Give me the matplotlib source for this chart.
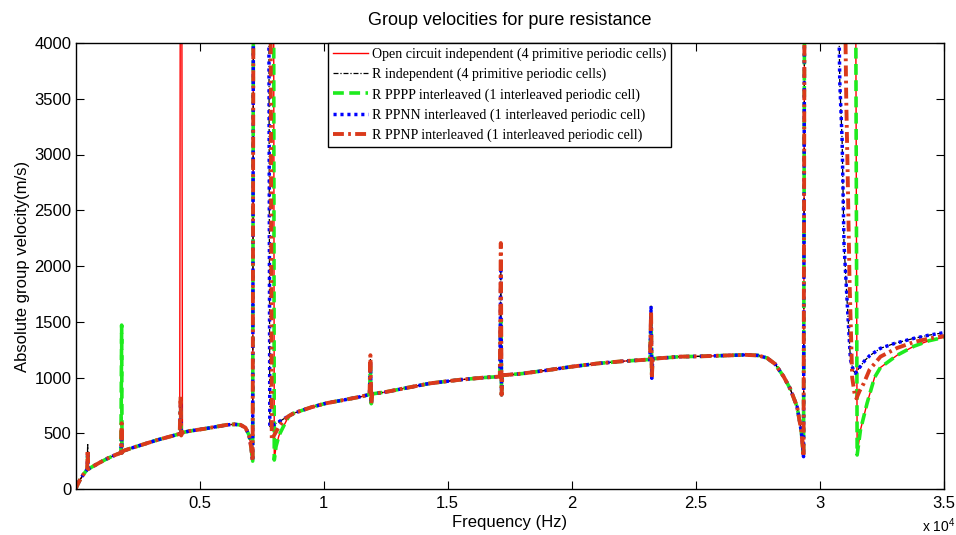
import matplotlib
matplotlib.use("Agg")
import matplotlib.pyplot as plt
import numpy as np

plt.rcParams['font.family'] = ['Liberation Sans', 'DejaVu Sans']
plt.rcParams['mathtext.fontset'] = 'custom'
plt.rcParams['mathtext.rm'] = 'Liberation Sans'

# ---------------- data ----------------
# shared curve before the first band gap
base1_f = [0, 150, 300, 420, 600, 800, 1000, 1300, 1600, 2300, 2800, 3300, 3800,
           4600, 5200, 5700, 6100, 6400, 6650, 6850, 7000, 7080, 7140, 7170]
base1_v = [0, 70, 125, 160, 190, 215, 240, 275, 305, 370, 405, 440, 470,
           520, 540, 560, 575, 580, 575, 550, 480, 370, 250, 4600]

# shared curve between the first and the second band gap
base2_f = [8600, 8800, 9500, 10100, 10800, 11500, 12500, 13300, 14300, 15500, 16500,
           18000, 19000, 20000, 21000, 22000, 24375, 25200, 26000, 27000, 27500,
           27870, 28200, 28540, 28800, 29080, 29250, 29340, 29380]
base2_v = [655, 680, 733, 769, 798, 828, 870, 905, 948, 980, 1000,
           1035, 1065, 1097, 1125, 1145, 1187, 1190, 1196, 1203, 1198,
           1175, 1120, 1007, 900, 738, 520, 290, 4600]

# right edge of the first gap, per series
gap1_green_f = [7985, 8010, 8080, 8200, 8400]
gap1_green_v = [4600, 260, 380, 480, 570]
gap1_blue_f = [7790, 7830, 7900, 8100, 8400]
gap1_blue_v = [4600, 560, 565, 590, 630]
gap1_red_f = [7860, 7910, 8000, 8200, 8400]
gap1_red_v = [4600, 440, 480, 560, 620]

# right edge of the third gap, per series
gap3_blue_f = [30740, 30800, 30894, 30970, 31093, 31230, 31350, 31430, 31600, 31800,
               32000, 32440, 33000, 33784, 34400, 35000]
gap3_blue_v = [4600, 3650, 3130, 2200, 1695, 1160, 1060, 1038, 1090, 1150,
               1195, 1262, 1305, 1351, 1380, 1402]
gap3_red_f = [31000, 31060, 31120, 31190, 31300, 31400, 31470, 31600, 31768, 32000,
              32440, 33113, 33784, 34400, 35000]
gap3_red_v = [4600, 3500, 2800, 1900, 1000, 850, 813, 880, 948, 1070,
              1187, 1265, 1318, 1350, 1372]
gap3_green_f = [31440, 31500, 31633, 31900, 32200, 32440, 33113, 33784, 34400, 35000]
gap3_green_v = [4600, 305, 529, 769, 1000, 1090, 1200, 1280, 1330, 1360]

# resonance spikes (frequencies of the local points)
spk1_f = [470, 490, 510, 540]
spk2_f = [1830, 1860, 1875, 1900]
spk3_f = [4200, 4235, 4260, 4290]
spk4_f = [11850, 11885, 11920, 11960]
spk5_f = [17100, 17140, 17170, 17200]
spk6_f = [23150, 23195, 23225, 23260]

spk_black = {1: [175, 410, 190, 182], 2: [325, 1470, 325, 340], 3: [495, 800, 480, 505],
             4: [848, 1170, 765, 853], 5: [1008, 2000, 845, 1020], 6: [1162, 1641, 993, 1168]}
spk_green = {1: [175, 300, 190, 182], 2: [325, 1470, 325, 340], 3: [495, 700, 480, 505],
             4: [848, 1100, 765, 853], 5: [1008, 1516, 845, 1020], 6: [1162, 1550, 993, 1168]}
spk_blue = {1: [175, 330, 190, 182], 2: [325, 450, 325, 340], 3: [495, 760, 480, 505],
            4: [848, 1150, 765, 853], 5: [1008, 1994, 845, 1020], 6: [1162, 1641, 993, 1168]}
spk_red = {1: [175, 350, 190, 182], 2: [325, 590, 325, 340], 3: [495, 828, 480, 505],
           4: [848, 1200, 765, 853], 5: [1008, 2206, 845, 1020], 6: [1162, 1600, 993, 1168]}

# open circuit: one unbounded resonance near 4.25 kHz
open_spk_f = [4200, 4222, 4285, 4310]
open_spk_v = [495, 4600, 4600, 505]

spk_freqs = {1: spk1_f, 2: spk2_f, 3: spk3_f, 4: spk4_f, 5: spk5_f, 6: spk6_f}


def build(chunks):
    f = np.concatenate([np.asarray(c[0], float) for c in chunks])
    v = np.concatenate([np.asarray(c[1], float) for c in chunks])
    o = np.argsort(f, kind='stable')
    return f[o], v[o]


def series(gap1, gap3, spikes):
    chunks = [(base1_f, base1_v), gap1, (base2_f, base2_v), gap3]
    for k, vals in spikes.items():
        chunks.append((spk_freqs[k], vals))
    return build(chunks)


open_f, open_v = build([(base1_f, base1_v), (open_spk_f, open_spk_v),
                        (gap1_green_f, gap1_green_v), (base2_f, base2_v),
                        (gap3_green_f, gap3_green_v)])
black_f, black_v = series((gap1_blue_f, gap1_blue_v), (gap3_blue_f, gap3_blue_v), spk_black)
green_f, green_v = series((gap1_green_f, gap1_green_v), (gap3_green_f, gap3_green_v), spk_green)
blue_f, blue_v = series((gap1_blue_f, gap1_blue_v), (gap3_blue_f, gap3_blue_v), spk_blue)
red_f, red_v = series((gap1_red_f, gap1_red_v), (gap3_red_f, gap3_red_v), spk_red)

labels = ["Open circuit independent (4 primitive periodic cells)",
          "R independent (4 primitive periodic cells)",
          "R PPPP interleaved (1 interleaved periodic cell)",
          "R PPNN interleaved (1 interleaved periodic cell)",
          "R PPNP interleaved (1 interleaved periodic cell)"]

xticks = [5000, 10000, 15000, 20000, 25000, 30000, 35000]
xticklabels = ["0.5", "1", "1.5", "2", "2.5", "3", "3.5"]
yticks = [0, 500, 1000, 1500, 2000, 2500, 3000, 3500, 4000]

# ---------------- figure ----------------
fig = plt.figure(figsize=(9.56, 5.35), dpi=100)
ax = fig.add_axes([75.5 / 956, 46 / 535, 868.5 / 956, 446 / 535])

ax.plot(open_f, open_v, color='#FF0000', lw=1.0, ls='-', label=labels[0])
ax.plot(black_f, black_v, color='black', lw=0.9, ls=(0, (4, 1.5, 1, 1.5)), label=labels[1])
ax.plot(green_f, green_v, color='#1EEB1E', lw=2.6, ls=(0, (3.0, 1.5)), label=labels[2])
ax.plot(blue_f, blue_v, color='#0000FF', lw=2.5, ls=(0, (0.9, 1.1)), label=labels[3])
ax.plot(red_f, red_v, color='#DA3A1B', lw=2.8, ls=(0, (2.8, 1.1, 0.7, 1.1)), label=labels[4])

ax.set_xlim(0, 35000)
ax.set_ylim(0, 4000)
ax.set_xticks(xticks)
ax.set_xticklabels(xticklabels)
ax.set_yticks(yticks)
ax.tick_params(direction='in', length=6, width=0.8, top=True, right=True,
               labelsize=12)
ax.tick_params(axis='y', pad=3)
ax.tick_params(axis='x', pad=5)
for s in ax.spines.values():
    s.set_linewidth(1.0)

ax.set_title("Group velocities for pure resistance", fontsize=13, pad=13)
ax.set_xlabel("Frequency (Hz)", fontsize=12, labelpad=3)
ax.set_ylabel("Absolute group velocity(m/s)", fontsize=12, labelpad=3)
fig.text(922 / 956, 1 - 526 / 535, r"x 10$^{4}$", fontsize=10, ha='left', va='center')

leg = ax.legend(loc='upper left', bbox_to_anchor=((328 - 75.5) / 868.5, 1.0),
                borderaxespad=0, fancybox=False, framealpha=1, edgecolor='black',
                prop={'family': 'Liberation Serif', 'size': 10.1},
                handlelength=2.5, handletextpad=0.3, labelspacing=0.47,
                borderpad=0.35)
leg.get_frame().set_linewidth(1.0)

fig.savefig("out.png", dpi=100)
